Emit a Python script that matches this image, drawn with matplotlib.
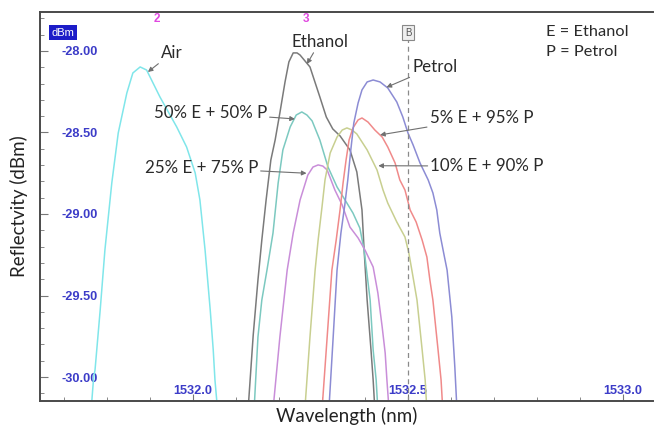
import matplotlib
matplotlib.use('Agg')
import matplotlib.pyplot as plt
from matplotlib.ticker import MultipleLocator, FixedLocator, FormatStrFormatter

plt.rcParams['font.family'] = ['Lato', 'DejaVu Sans']
plt.rcParams['axes.unicode_minus'] = False

# traces: wavelength (nm), reflectivity (dBm)
air_wl = [1531.763, 1531.769, 1531.772, 1531.784, 1531.795, 1531.811, 1531.826, 1531.846,
          1531.860, 1531.877, 1531.892, 1531.923, 1531.962, 1531.985, 1532.005, 1532.016,
          1532.028, 1532.040, 1532.047, 1532.051, 1532.057]
air_dbm = [-30.20, -29.994, -29.957, -29.589, -29.221, -28.810, -28.503, -28.258,
           -28.135, -28.098, -28.117, -28.282, -28.466, -28.589, -28.748, -28.914,
           -29.221, -29.589, -29.834, -30.018, -30.20]

eth_wl = [1532.128, 1532.140, 1532.151, 1532.160, 1532.170, 1532.181, 1532.191, 1532.202,
          1532.214, 1532.223, 1532.233, 1532.242, 1532.249, 1532.272, 1532.295, 1532.310,
          1532.325, 1532.342, 1532.365, 1532.381, 1532.393, 1532.398, 1532.405, 1532.414,
          1532.419, 1532.423]
eth_dbm = [-30.202, -29.742, -29.405, -29.160, -28.914, -28.669, -28.546, -28.380,
           -28.190, -28.067, -28.012, -28.012, -28.025, -28.098, -28.282, -28.405,
           -28.478, -28.521, -28.607, -28.742, -28.975, -29.221, -29.528, -29.834,
           -30.018, -30.202]

e50_wl = [1532.142, 1532.151, 1532.160, 1532.172, 1532.186, 1532.198, 1532.209, 1532.226,
          1532.240, 1532.253, 1532.265, 1532.277, 1532.295, 1532.314, 1532.335, 1532.358,
          1532.372, 1532.388, 1532.398, 1532.412, 1532.419, 1532.426, 1532.430]
e50_dbm = [-30.202, -29.755, -29.528, -29.344, -29.117, -28.810, -28.607, -28.466,
           -28.393, -28.374, -28.393, -28.429, -28.546, -28.712, -28.834, -28.933,
           -28.994, -29.086, -29.221, -29.528, -29.834, -30.018, -30.202]

e25_wl = [1532.186, 1532.202, 1532.219, 1532.233, 1532.249, 1532.267, 1532.279, 1532.291,
          1532.302, 1532.312, 1532.330, 1532.347, 1532.365, 1532.384, 1532.400, 1532.419,
          1532.430, 1532.440, 1532.447, 1532.451, 1532.456]
e25_dbm = [-30.202, -29.755, -29.344, -29.117, -28.914, -28.761, -28.712, -28.699,
           -28.706, -28.730, -28.853, -28.945, -29.080, -29.147, -29.221, -29.325,
           -29.485, -29.693, -29.853, -30.018, -30.202]

e10_wl = [1532.260, 1532.272, 1532.284, 1532.291, 1532.300, 1532.307, 1532.319, 1532.335,
          1532.347, 1532.358, 1532.370, 1532.381, 1532.405, 1532.428, 1532.442, 1532.453,
          1532.474, 1532.493, 1532.502, 1532.509, 1532.521, 1532.533, 1532.540, 1532.544]
e10_dbm = [-30.202, -29.755, -29.344, -29.160, -28.957, -28.791, -28.626, -28.528,
           -28.485, -28.472, -28.485, -28.509, -28.607, -28.730, -28.853, -28.933,
           -29.049, -29.141, -29.239, -29.344, -29.528, -29.834, -30.018, -30.202]

e5_wl = [1532.300, 1532.312, 1532.323, 1532.333, 1532.342, 1532.349, 1532.356, 1532.363,
         1532.372, 1532.384, 1532.393, 1532.407, 1532.423, 1532.440, 1532.453, 1532.470,
         1532.481, 1532.493, 1532.505, 1532.519, 1532.533, 1532.544, 1532.551, 1532.558,
         1532.570, 1532.577, 1532.581]
e5_dbm = [-30.202, -29.755, -29.344, -29.160, -28.975, -28.810, -28.669, -28.546,
          -28.472, -28.423, -28.411, -28.436, -28.485, -28.528, -28.589, -28.687,
          -28.791, -28.853, -28.975, -29.049, -29.160, -29.264, -29.405, -29.528,
          -29.834, -30.018, -30.202]

pet_wl = [1532.316, 1532.326, 1532.335, 1532.344, 1532.353, 1532.360, 1532.367, 1532.374,
          1532.384, 1532.393, 1532.405, 1532.419, 1532.435, 1532.453, 1532.474, 1532.488,
          1532.500, 1532.512, 1532.528, 1532.547, 1532.558, 1532.567, 1532.574, 1532.584,
          1532.591, 1532.602, 1532.609, 1532.614]
pet_dbm = [-30.202, -29.755, -29.344, -29.117, -28.945, -28.791, -28.607, -28.442,
           -28.319, -28.239, -28.190, -28.178, -28.190, -28.227, -28.313, -28.405,
           -28.503, -28.577, -28.687, -28.791, -28.871, -28.975, -29.117, -29.252,
           -29.344, -29.632, -29.939, -30.202]

traces = [
    (air_wl, air_dbm, '#80e6ea'),
    (eth_wl, eth_dbm, '#7a7a7a'),
    (e50_wl, e50_dbm, '#7cc9c0'),
    (e25_wl, e25_dbm, '#c98ed9'),
    (e10_wl, e10_dbm, '#c8cf90'),
    (e5_wl, e5_dbm, '#f08a8a'),
    (pet_wl, pet_dbm, '#8c8cd4'),
]

x_major = [1532.0, 1532.5, 1533.0]
y_major = [-28.0, -28.5, -29.0, -29.5, -30.0]
marker_b = 1532.5

fig = plt.figure(figsize=(6.54, 4.25), dpi=100)
ax = fig.add_axes([40 / 654, 24 / 425, 613 / 654, 389 / 425])

for wl, dbm, col in traces:
    ax.plot(wl, dbm, color=col, lw=1.1)

ax.set_xlim(1531.644, 1533.070)
ax.set_ylim(-30.147, -27.761)

ax.xaxis.set_major_locator(FixedLocator(x_major))
ax.xaxis.set_minor_locator(MultipleLocator(0.1))
ax.yaxis.set_major_locator(FixedLocator(y_major))
ax.yaxis.set_minor_locator(MultipleLocator(0.1))
ax.xaxis.set_major_formatter(FormatStrFormatter('%.1f'))
ax.yaxis.set_major_formatter(FormatStrFormatter('%.2f'))

blue = '#3c3cc8'
ax.tick_params(axis='y', which='major', direction='in', length=6, width=0.8,
               color='#777777', pad=-41.8, labelcolor=blue, labelsize=9.2)
ax.tick_params(axis='x', which='major', direction='in', length=5, width=0.8,
               color='#777777', pad=-11.5, labelcolor=blue, labelsize=9.2)
ax.tick_params(which='minor', direction='in', length=3, width=0.7, color='#888888')
for lab in ax.get_xticklabels() + ax.get_yticklabels():
    lab.set_fontfamily(['Liberation Sans', 'DejaVu Sans'])
    lab.set_fontweight('bold')

for s in ['top', 'left', 'bottom']:
    ax.spines[s].set_color('#4a4a4a')
    ax.spines[s].set_linewidth(1.4)
ax.spines['right'].set_visible(False)

ax.set_xlabel('Wavelength (nm)', fontsize=13.5, color='#222222', labelpad=1)
ax.set_ylabel('Reflectvity (dBm)', fontsize=13.5, color='#222222', labelpad=5)

# OSA screen decorations
ax.text(0.0375, 0.947, 'dBm', transform=ax.transAxes, ha='center', va='center',
        fontsize=8, color='white', family=['Liberation Sans', 'DejaVu Sans'],
        bbox=dict(boxstyle='square,pad=0.25', fc='#1c1cc8', ec='none'))
ax.text(1531.916, 0.982, '2', transform=ax.get_xaxis_transform(), ha='center', va='center',
        fontsize=8.5, color='#e048e0', fontweight='bold', family=['Liberation Sans', 'DejaVu Sans'])
ax.text(1532.263, 0.982, '3', transform=ax.get_xaxis_transform(), ha='center', va='center',
        fontsize=8.5, color='#e048e0', fontweight='bold', family=['Liberation Sans', 'DejaVu Sans'])
ax.plot([marker_b, marker_b], [-30.2, -27.93], color='#8a8a8a', lw=0.9, ls=(0, (4, 3)))
ax.text(marker_b, 0.947, 'B', transform=ax.get_xaxis_transform(), ha='center', va='center',
        fontsize=7, color='#555555', family=['Liberation Sans', 'DejaVu Sans'],
        bbox=dict(boxstyle='square,pad=0.25', fc='#eeeeee', ec='#888888', lw=0.8))

arrow = dict(arrowstyle='-|>', color='#707070', lw=0.8, mutation_scale=7, shrinkA=0, shrinkB=0)
tcol = '#2a2a2a'
notes = [
    ('Air', (1531.895, -28.129), (1531.951, -28.012)),
    ('Ethanol', (1532.265, -28.080), (1532.295, -27.945)),
    ('50% E + 50% P', (1532.237, -28.417), (1532.040, -28.380)),
    ('25% E + 75% P', (1532.264, -28.750), (1532.019, -28.718)),
    ('Petrol', (1532.450, -28.223), (1532.562, -28.096)),
    ('5% E + 95% P', (1532.435, -28.515), (1532.671, -28.411)),
    ('10% E + 90% P', (1532.431, -28.704), (1532.684, -28.706)),
]
for txt, tip, pos in notes:
    ax.annotate(txt, xy=tip, xytext=pos, ha='center', va='center', fontsize=12.2,
                color=tcol, arrowprops=arrow)

ax.text(1532.821, -27.883, 'E = Ethanol', ha='left', va='center', fontsize=11.8, color=tcol)
ax.text(1532.821, -28.006, 'P = Petrol', ha='left', va='center', fontsize=11.8, color=tcol)

fig.savefig('out.png', dpi=100, facecolor='white')
